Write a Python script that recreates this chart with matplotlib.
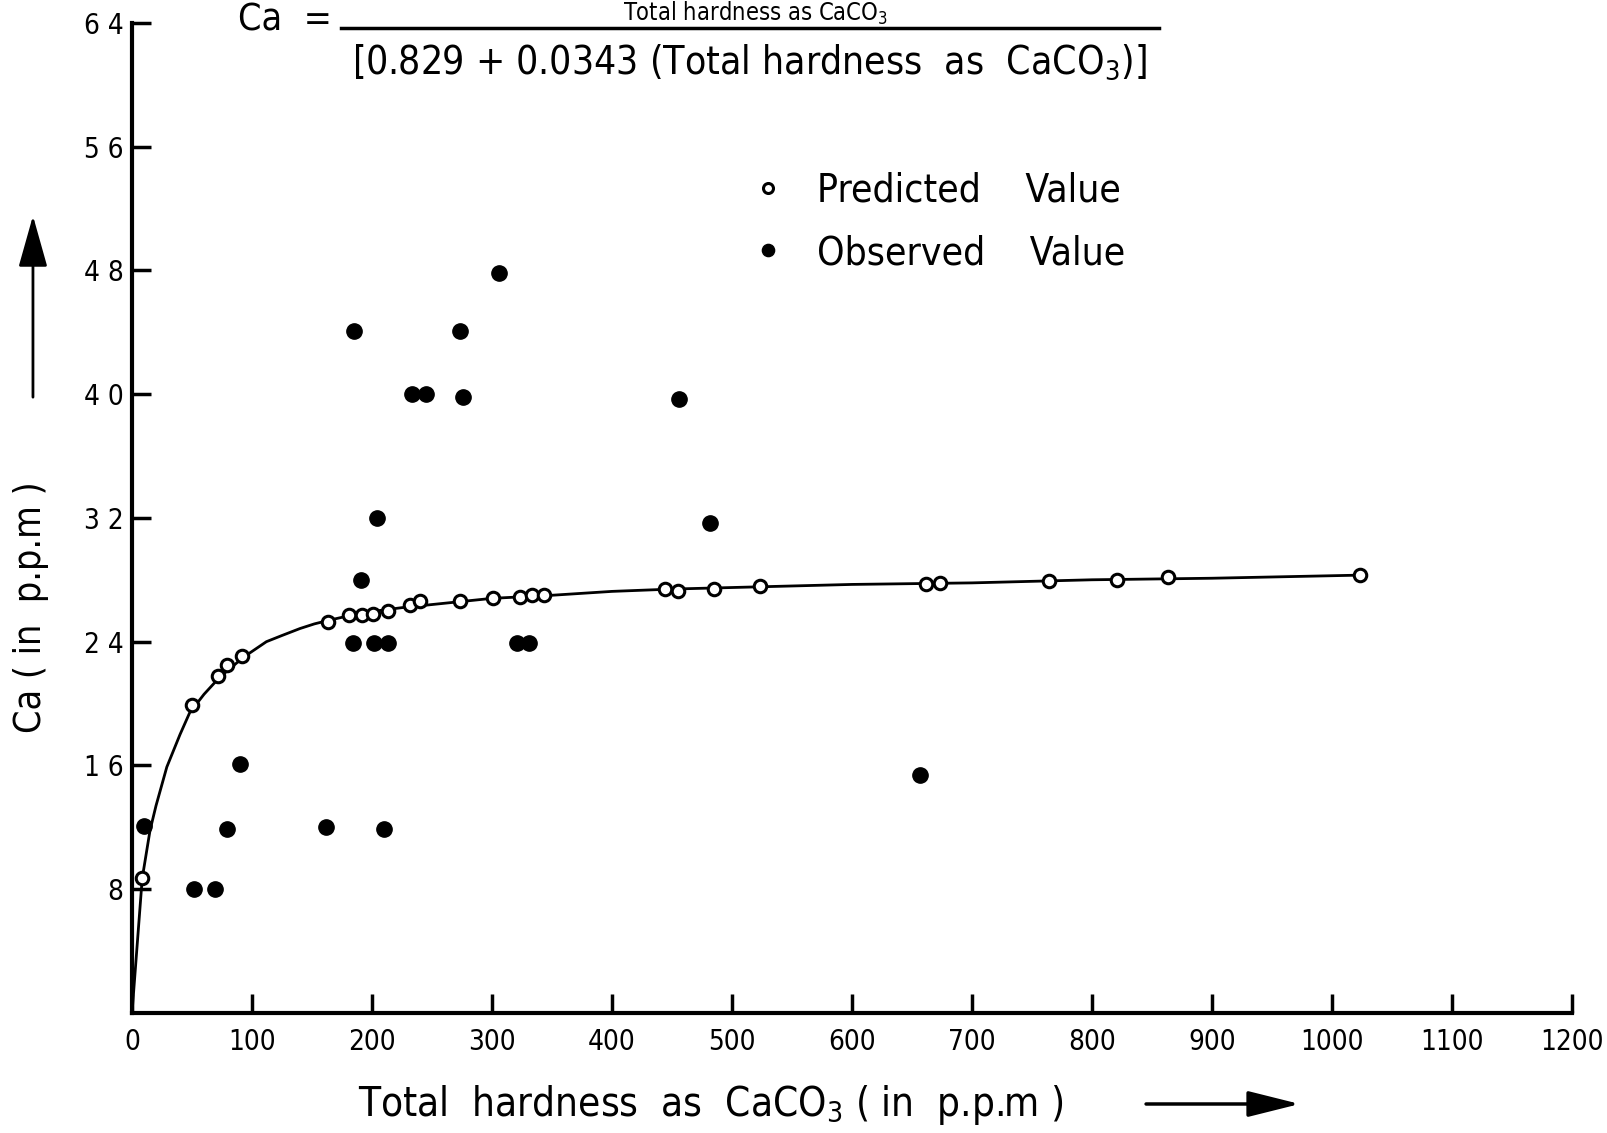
import matplotlib
matplotlib.use("Agg")
import matplotlib.pyplot as plt
from matplotlib.lines import Line2D

plt.rcParams["font.family"] = ["DejaVu Sans"]
plt.rcParams["font.stretch"] = "condensed"

# predicted values (open circles)
pred_x = [8.5, 49.6, 71.8, 79.5, 91.5, 163, 181, 192, 201, 213, 232, 240, 273, 301,
          323, 333, 343, 444, 455, 485, 523, 662, 673, 764, 821, 863, 1023]
pred_y = [8.7, 19.9, 21.8, 22.5, 23.1, 25.3, 25.7, 25.7, 25.8, 26.0, 26.4, 26.6, 26.6, 26.8,
          26.9, 27.0, 27.0, 27.4, 27.3, 27.4, 27.6, 27.7, 27.8, 27.9, 28.0, 28.2, 28.3]

# observed values (filled circles)
obs_x = [10, 52, 69, 79.5, 90, 162, 210, 185, 191, 204, 184, 202, 213, 233, 245,
         273, 276, 306, 321, 331, 456, 482, 657]
obs_y = [12.1, 8.0, 8.0, 11.9, 16.1, 12.0, 11.9, 44.1, 28.0, 32.0, 23.9, 23.9, 23.9, 40.0, 40.0,
         44.1, 39.8, 47.8, 23.9, 23.9, 39.7, 31.7, 15.4]

# fitted curve as drawn
curve_x = [0, 4, 8.5, 15, 20, 29, 40, 48, 60, 73, 93, 112, 125, 140, 152, 165, 185, 200, 225,
           250, 300, 350, 400, 450, 500, 600, 700, 800, 900, 1023]
curve_y = [0, 4.1, 8.7, 11.8, 13.4, 15.9, 18.0, 19.4, 20.6, 21.7, 23.0, 24.0, 24.4, 24.85,
           25.15, 25.4, 25.75, 25.95, 26.2, 26.4, 26.8, 27.0, 27.25, 27.4, 27.5, 27.7, 27.8,
           28.0, 28.1, 28.3]

x_ticks = [0, 100, 200, 300, 400, 500, 600, 700, 800, 900, 1000, 1100, 1200]
y_ticks = [8, 16, 24, 32, 40, 48, 56, 64]
y_labels = ["8", "1 6", "2 4", "3 2", "4 0", "4 8", "5 6", "6 4"]

fig = plt.figure(figsize=(16.08, 11.33), dpi=100)
ax = fig.add_axes([0.0821, 0.1059, 0.8955, 0.874])

ax.plot(curve_x, curve_y, color="black", lw=2, zorder=2)
ax.plot(pred_x, pred_y, "o", ms=9, mfc="white", mec="black", mew=2.2, zorder=3,
        label="Predicted    Value")
ax.plot(obs_x, obs_y, "o", ms=11, mfc="black", mec="black", mew=1, zorder=3,
        ls="none", label="Observed    Value")

ax.set_xlim(0, 1200)
ax.set_ylim(0, 64)
ax.set_xticks(x_ticks)
ax.set_xticklabels([str(t) for t in x_ticks])
ax.set_yticks(y_ticks)
ax.set_yticklabels(y_labels)

for s in ["top", "right"]:
    ax.spines[s].set_visible(False)
for s in ["left", "bottom"]:
    ax.spines[s].set_linewidth(3)
ax.tick_params(axis="both", direction="in", length=14, width=2.5, labelsize=20)
ax.tick_params(axis="x", pad=11)
ax.tick_params(axis="y", pad=6)

leg = ax.legend(loc="upper left", bbox_to_anchor=(0.415, 0.869), frameon=False,
                fontsize=28, handlelength=1.0, handletextpad=0.75, labelspacing=0.62,
                borderpad=0, markerscale=0.8)

# axis titles and arrows
fig.text(0.0193, 0.464, "Ca ( in  p.p.m )", rotation=90, ha="center", va="center",
         fontsize=27)
fig.text(0.442, 0.0247, "Total  hardness  as  CaCO$_3$ ( in  p.p.m )", ha="center",
         va="center", fontsize=29)
fig.add_artist(matplotlib.patches.FancyArrowPatch(
    (0.0205, 0.647), (0.0205, 0.812), transform=fig.transFigure,
    arrowstyle="-|>,head_length=1.6,head_width=0.45", mutation_scale=20,
    color="black", lw=2))
fig.add_artist(matplotlib.patches.FancyArrowPatch(
    (0.711, 0.0256), (0.81, 0.0256), transform=fig.transFigure,
    arrowstyle="-|>,head_length=1.6,head_width=0.4", mutation_scale=20,
    color="black", lw=2.5))

# formula at the top
fig.text(0.148, 0.982, "Ca  =", ha="left", va="center", fontsize=27)
fig.add_artist(Line2D([0.212, 0.721], [0.9755, 0.9755], transform=fig.transFigure,
                      color="black", lw=2.5))
fig.text(0.47, 0.9815, "Total hardness as CaCO$_3$", ha="center", va="baseline",
         fontsize=17)
fig.text(0.219, 0.9455, "[0.829 + 0.0343 (Total hardness  as  CaCO$_3$)]", ha="left",
         va="center", fontsize=28)

fig.savefig("out.png", dpi=100)
